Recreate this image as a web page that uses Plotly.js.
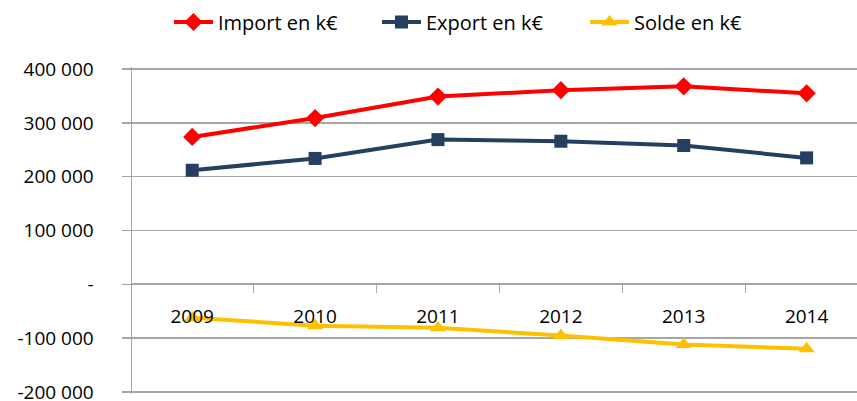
<!DOCTYPE html>
<html>
<head>
<meta charset="utf-8">
<script src="https://cdn.plot.ly/plotly-3.0.1.min.js"></script>
<style>html,body{margin:0;padding:0;background:#fff;}#chart{width:857px;height:401px;}</style>
</head>
<body>
<div id="chart"></div>
<script>
var years = ["2009", "2010", "2011", "2012", "2013", "2014"];
var importValues = [274000, 309000, 349000, 361000, 368000, 355000];
var exportValues = [212000, 234000, 269000, 266000, 258000, 235000];
var soldeValues = [-62000, -77000, -81000, -95000, -112000, -120000];
var yTickValues = [-200000, -100000, 0, 100000, 200000, 300000, 400000];
var yTickLabels = ["-200 000", "-100 000", "-", "100 000", "200 000", "300 000", "400 000"];

var fontFam = "Open Sans, Noto Sans, sans-serif";
var traces = [
  {x: years, y: importValues, name: "Import en k€", type: "scatter", mode: "lines+markers",
   line: {color: "#FF0000", width: 4}, marker: {symbol: "diamond", size: 14, color: "#FF0000"}},
  {x: years, y: exportValues, name: "Export en k€", type: "scatter", mode: "lines+markers",
   line: {color: "#243F60", width: 4}, marker: {symbol: "square", size: 13, color: "#243F60"}},
  {x: years, y: soldeValues, name: "Solde en k€", type: "scatter", mode: "lines+markers",
   line: {color: "#FFC000", width: 4}, marker: {symbol: "triangle-up", size: 14, color: "#FFC000"}}
];
var layout = {
  width: 857, height: 401,
  margin: {l: 132, r: 0, t: 67, b: 7},
  paper_bgcolor: "#fff", plot_bgcolor: "#fff",
  font: {family: fontFam, size: 18, color: "#000"},
  showlegend: true,
  legend: {orientation: "h", x: 0.051, xanchor: "left", y: 1.1376, yanchor: "middle",
           font: {family: fontFam, size: 20, color: "#000"}, traceorder: "normal",
           itemwidth: 39, entrywidth: 154, entrywidthmode: "pixels"},
  xaxis: {type: "category", range: [-0.49, 5.41], anchor: "free", position: 0.3388,
          showline: true, linecolor: "#A6A6A6", linewidth: 1.5,
          ticks: "outside", tickson: "boundaries", ticklen: 8, tickcolor: "#A6A6A6", tickwidth: 1,
          ticklabelstandoff: 15, showgrid: false, zeroline: false,
          tickfont: {family: fontFam, size: 19, color: "#000"}},
  yaxis: {range: [-204000, 404000], tickvals: yTickValues, ticktext: yTickLabels,
          showgrid: true, gridcolor: "#A6A6A6", gridwidth: 1.5, zeroline: false,
          showline: true, linecolor: "#A6A6A6", linewidth: 1.5,
          ticks: "outside", ticklen: 9, tickcolor: "#A6A6A6", tickwidth: 1.5,
          ticklabelstandoff: 24, ticklabeloverflow: "allow",
          tickfont: {family: fontFam, size: 19, color: "#000"}}
};
Plotly.newPlot("chart", traces, layout, {displayModeBar: false, staticPlot: true});
</script>
</body>
</html>
